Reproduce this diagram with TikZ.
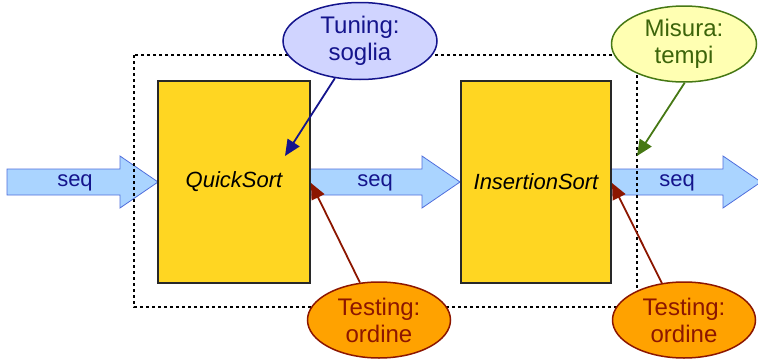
\documentclass[tikz,border=0pt]{standalone}
\usepackage{fontspec}
\setmainfont{Liberation Sans}
\usetikzlibrary{arrows.meta,shapes.geometric}
\definecolor{boxfill}{RGB}{255,214,34}
\definecolor{boxline}{RGB}{40,40,40}
\definecolor{seqfill}{RGB}{170,212,255}
\definecolor{seqline}{RGB}{80,110,220}
\definecolor{seqtext}{RGB}{20,20,140}
\definecolor{tunfill}{RGB}{208,212,255}
\definecolor{tunline}{RGB}{20,20,140}
\definecolor{misfill}{RGB}{255,255,178}
\definecolor{misline}{RGB}{70,120,20}
\definecolor{mistext}{RGB}{60,100,10}
\definecolor{tesfill}{RGB}{255,162,0}
\definecolor{tesline}{RGB}{140,22,0}
\tikzset{
  algbox/.style={draw=boxline, line width=1.4pt, fill=boxfill, minimum width=152pt, minimum height=202pt, inner sep=0pt, font=\fontsize{22}{26}\selectfont\itshape},
  seqarrow/.style={draw=seqline, line width=0.8pt, fill=seqfill},
  seqlabel/.style={text=seqtext, font=\fontsize{22}{26}\selectfont, inner sep=0pt},
  bubble/.style={ellipse, line width=1.5pt, inner sep=0pt, align=center, font=\fontsize{24}{27}\selectfont},
  tunbubble/.style={bubble, draw=tunline, fill=tunfill, text=tunline, minimum width=154pt, minimum height=77pt},
  misbubble/.style={bubble, draw=misline, fill=misfill, text=mistext, minimum width=145pt, minimum height=76pt},
  tesbubble/.style={bubble, draw=tesline, fill=tesfill, text=tesline, minimum width=143pt, minimum height=76pt},
  conn/.style={line width=1.8pt, -{Triangle[length=16pt,width=14pt]}},
  frame/.style={draw=black, line width=1.8pt, dash pattern=on 3pt off 3pt}
}
\begin{document}
\begin{tikzpicture}[x=1pt,y=-1pt]
\useasboundingbox (0,0) rectangle (758,359);
\clip (0,0) rectangle (758,359);
% block arrows
\draw[seqarrow] (7,169) -- (120,169) -- (120,156) -- (158,182) -- (120,208) -- (120,195) -- (7,195) -- cycle;
\draw[seqarrow] (310,169) -- (422,169) -- (422,156) -- (460,182) -- (422,208) -- (422,195) -- (310,195) -- cycle;
\draw[seqarrow] (611,169) -- (723,169) -- (723,156) -- (761,182) -- (723,208) -- (723,195) -- (611,195) -- cycle;
\node[seqlabel] (s1) at (75,183) {seq};
\node[seqlabel] (s2) at (375,183) {seq};
\node[seqlabel] (s3) at (677,183) {seq};
% dashed frame
\draw[frame] (134,55) rectangle (637,307);
% boxes
\node[algbox] (qs) at (234,182) {QuickSort};
\node[algbox, minimum width=150pt] (is) at (536,182) {InsertionSort};
% bubbles
\node[tunbubble] (tun) at (360,41) {Tuning:\\soglia};
\node[misbubble] (mis) at (684,44) {Misura:\\tempi};
\node[tesbubble] (tes1) at (379,320) {Testing:\\ordine};
\node[tesbubble] (tes2) at (684,320) {Testing:\\ordine};
% connectors
\coordinate (tunTip) at (285,156);
\coordinate (misTip) at (637,156);
\coordinate (tes1Tip) at (311,183);
\coordinate (tes2Tip) at (612,183);
\draw[conn, draw=tunline, fill=tunline] (tun.-124) -- (tunTip);
\draw[conn, draw=misline, fill=misline] (mis.-89) -- (misTip);
\draw[conn, draw=tesline, fill=tesline] (tes1.117) -- (tes1Tip);
\draw[conn, draw=tesline, fill=tesline] (tes2.121) -- (tes2Tip);
\end{tikzpicture}
\end{document}
